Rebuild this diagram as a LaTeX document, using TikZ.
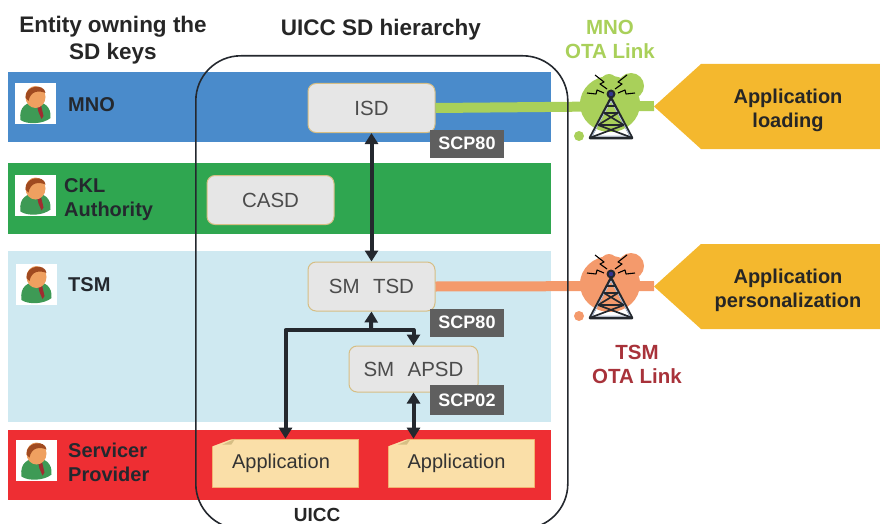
\documentclass[tikz,border=0pt]{standalone}
\usepackage{fontspec}
\setmainfont{Liberation Sans}
\usetikzlibrary{arrows.meta}
\definecolor{mnoblue}{HTML}{4A8BCB}
\definecolor{cklgreen}{HTML}{2FA650}
\definecolor{tsmcyan}{HTML}{CFE9F1}
\definecolor{srvred}{HTML}{EE2E33}
\definecolor{linkgreen}{HTML}{A9D05A}
\definecolor{linkorange}{HTML}{F49A6C}
\definecolor{boxgold}{HTML}{F4B82E}
\definecolor{sdgrey}{HTML}{E6E6E6}
\definecolor{sdedge}{HTML}{D6BE84}
\definecolor{appcream}{HTML}{FADFA8}
\definecolor{tagdark}{HTML}{5F5F5F}
\definecolor{inkdark}{HTML}{24282E}
\definecolor{tsmred}{HTML}{A8323A}
\definecolor{skintone}{HTML}{EFA060}
\definecolor{hairtone}{HTML}{A04A20}
\definecolor{suitgreen}{HTML}{3E9A55}
\definecolor{tiered}{HTML}{A02C30}
\definecolor{steelblue}{HTML}{B4C4E0}
\tikzset{
band/.style={minimum height=#1,minimum width=543,inner sep=0,anchor=north west},
sdbox/.style={draw=sdedge,line width=1,fill=sdgrey,rounded corners=8,minimum width=127,minimum height=49,inner sep=0,text=black!70,font=\fontsize{20.5}{22}\selectfont},
apptxt/.style={fill=appcream,draw=orange!70!brown!60,line width=.6,minimum width=146,minimum height=48,inner sep=0,text=black!80,font=\fontsize{20}{22}\selectfont},
tag/.style={fill=tagdark,text=white,minimum width=74,minimum height=28,inner sep=0,font=\bfseries\fontsize{18}{20}\selectfont},
owner/.style={anchor=west,align=left,text=inkdark,font=\bfseries\fontsize{20}{24}\selectfont,inner sep=0},
head/.style={align=center,text=black!85,font=\bfseries\fontsize{22.5}{27}\selectfont,inner sep=0},
goal/.style={align=center,text=black!85,font=\bfseries\fontsize{20}{24}\selectfont,inner sep=0},
linkhead/.style={align=center,font=\bfseries\fontsize{20.5}{24}\selectfont,inner sep=0},
sdarrow/.style={line width=4,inkdark,{Triangle[width=13,length=11]}-{Triangle[width=13,length=11]}},
sdfork/.style={line width=4,inkdark,-{Triangle[width=13,length=11]}},
person/.pic={
\fill[white] (-20.5,-20.5) rectangle (20.5,20.5);
\fill[suitgreen] (-15,16) .. controls (-17,2) and (-8,-2) .. (0,-2) .. controls (8,-2) and (16,2) .. (15,14) .. controls (8,20) and (-8,21) .. (-15,16);
\fill[tiered] (1,-1) -- (5,-1) -- (8,12) -- (6,15) -- (3,8) -- cycle;
\fill[skintone] (0,-7) ellipse (10 and 11);
\fill[hairtone] (-10,-6) .. controls (-11,-19) and (9,-21) .. (10,-11) .. controls (3,-14) and (-5,-13) .. (-7,-3) -- cycle;
},
tower/.pic={
\draw[inkdark,line width=2.6] (-21,22) -- (0,-18) -- (21,22) -- cycle;
\draw[steelblue,line width=.8] (-19,20) -- (0,-15) -- (19,20) -- cycle;
\draw[inkdark,line width=1.7] (-13,9) -- (13,9) (-7,-3) -- (7,-3) (-13,9) -- (7,-3) (13,9) -- (-7,-3) (-19,21) -- (13,9) (19,21) -- (-13,9) (-4,-10) -- (4,-10);
\fill[inkdark] (0,-22) circle (4.5);
\fill[blue!45!black!80] (0,-22) circle (2.2);
\draw[black,line width=1.1] (-4,-27) -- (-11,-32) -- (-7,-34) -- (-16,-41) (4,-27) -- (11,-32) -- (7,-34) -- (16,-41) (-7,-23) -- (-14,-26) -- (-15,-22) -- (-24,-23) (7,-23) -- (14,-26) -- (15,-22) -- (24,-23);
},
}
\begin{document}
\begin{tikzpicture}[x=1pt,y=-1pt,line join=round]
\useasboundingbox (0,0) rectangle (880,524);
\clip (0,0) rectangle (880,524);
% bands
\foreach \n/\c/\y/\h in {mno/mnoblue/72/70, ckl/cklgreen/163/71, tsm/tsmcyan/251/171, srv/srvred/430/70}{
\node[band=\h,fill=\c] (\n) at (8,\y) {};
}
% blobs behind the towers
\foreach \c/\y in {linkgreen/0, linkorange/180}{
\begin{scope}[yshift=-\y]
\fill[\c] (610,104) ellipse (30 and 28);
\fill[\c] (631,86) circle (13);
\fill[\c] (609,82) circle (8);
\fill[\c] (579,136) circle (5);
\end{scope}
}
% boxes
\node[sdbox] (isd) at (371.5,108) {ISD};
\node[sdbox] (casd) at (270.5,200) {CASD};
\node[sdbox] (tsd) at (371.5,286.5) {SM\hspace{.65em}TSD};
\node[sdbox,minimum width=129,minimum height=46] (apsd) at (413.5,369) {SM\hspace{.65em}APSD};
\node[apptxt] (appa) at (285.5,463) {\hspace{-9pt}Application};
\node[apptxt] (appb) at (461,463) {\hspace{-9pt}Application};
\foreach \a in {appa,appb}{
\fill[srvred] (\a.north west) ++(-1,-1) -- ++(0,9) -- ++(24,-9) -- cycle;
\fill[sdedge] (\a.north west) ++(10,6) -- ++(13,-6) -- ++(-4,6) -- cycle;
}
\path (654,106) coordinate (mnotip) (654,286) coordinate (tsmtip);
\draw[linkgreen,line width=10] (isd.east) -- (mnotip);
\draw[linkorange,line width=10] (tsd.east) -- (tsmtip);
% UICC outline
\node[draw=inkdark,line width=1.6,rounded corners=45,minimum width=372,minimum height=473,inner sep=0,anchor=north west] (uicc) at (195,55) {};
% towers and people
\pic at (611,116) {tower};
\pic at (611,296) {tower};
\foreach \x/\y in {35.5/104, 35.5/195.5, 36.5/284, 36.5/460.5}{
\pic at (\x,\y) {person};
}
% goals
\fill[boxgold] (654,106.5) -- (701,64) -- (880,64) -- (880,149) -- (701,149) -- cycle;
\fill[boxgold] (654,286.5) -- (701,244) -- (880,244) -- (880,329) -- (701,329) -- cycle;
\node[goal] (load) at (788,110) {Application\\loading};
\node[goal] (pers) at (788,290) {Application\\personalization};
% tags
\node[tag] (taga) at (467,143.5) {SCP80};
\node[tag] (tagb) at (467,322.5) {SCP80};
\node[tag,minimum height=30] (tagc) at (467,400) {SCP02};
% texts
\node[head] (owning) at (113,40) {Entity owning the\\SD keys};
\node[head] (hier) at (381,30) {UICC SD hierarchy};
\node[linkhead,text=linkgreen] (mnolink) at (610,39) {MNO\\OTA Link};
\node[linkhead,text=tsmred] (tsmlink) at (637,364) {TSM\\OTA Link};
\node[head,font=\bfseries\fontsize{19}{20}\selectfont] (uicclabel) at (317,515) {UICC};
\node[owner] (ownera) at (68,105) {MNO};
\node[owner] (ownerb) at (64,199.5) {CKL\\Authority};
\node[owner] (ownerc) at (68,285) {TSM};
\node[owner] (ownerd) at (68,462) {Servicer\\Provider};
% connectors
\draw[sdarrow] (isd.south) -- (tsd.north);
\coordinate (fork) at (371,330);
\draw[sdfork] (fork) -- (tsd.south);
\draw[sdfork] (fork) -| (appa.north);
\draw[sdfork] (fork) -| (apsd.north);
\draw[sdarrow] (apsd.south) -- (apsd.south |- appb.north);
\end{tikzpicture}
\end{document}
